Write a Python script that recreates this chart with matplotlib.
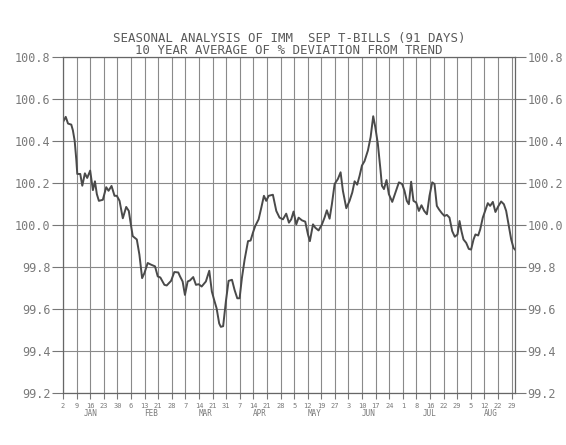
import numpy as np
import matplotlib
matplotlib.use("Agg")
import matplotlib.pyplot as plt

# weeks from Jan 2, and average % deviation
weeks = [0.0, 0.2, 0.37, 0.61, 0.73, 0.86, 0.98, 1.05, 1.27, 1.42, 1.61, 1.78, 2.0,
         2.2, 2.35, 2.49, 2.64, 2.93, 3.18, 3.35, 3.57, 3.79, 3.96, 4.16, 4.4, 4.65,
         4.84, 4.99, 5.13, 5.43, 5.62, 5.82, 5.99, 6.23, 6.48, 6.77, 6.97, 7.16, 7.46,
         7.63, 7.95, 8.19, 8.48, 8.61, 8.8, 8.97, 9.17, 9.34, 9.58, 9.78, 9.98, 10.2,
         10.51, 10.76, 10.95, 11.12, 11.3, 11.49, 11.61, 11.78, 11.98, 12.18, 12.43,
         12.62, 12.82, 12.99, 13.16, 13.36, 13.61, 13.8, 13.97, 14.14, 14.39, 14.59,
         14.78, 14.95, 15.13, 15.44, 15.69, 15.93, 16.18, 16.42, 16.62, 16.79, 16.96,
         17.16, 17.33, 17.58, 17.82, 18.02, 18.16, 18.39, 18.56, 18.8, 19.05, 19.24,
         19.41, 19.61, 19.78, 19.98, 20.22, 20.42, 20.59, 20.84, 21.08, 21.28, 21.45,
         21.64, 21.82, 21.99, 22.18, 22.43, 22.63, 22.82, 22.97, 23.16, 23.36, 23.46,
         23.61, 23.8, 23.97, 24.22, 24.46, 24.71, 24.95, 25.12, 25.29, 25.44, 25.61,
         25.78, 25.98, 26.18, 26.37, 26.57, 26.77, 26.96, 27.16, 27.33, 27.5, 27.65,
         27.87, 28.06, 28.24, 28.43, 28.63, 28.82, 29.02, 29.17, 29.31, 29.46, 29.66,
         29.85, 30.02, 30.2, 30.34, 30.54, 30.69, 30.88, 31.05, 31.25, 31.42, 31.62,
         31.81, 32.01, 32.23, 32.43, 32.6, 32.8, 32.97, 33.14, 33.25]
values = [100.49, 100.515, 100.483, 100.478, 100.45, 100.40, 100.31, 100.243, 100.243,
          100.187, 100.246, 100.224, 100.259, 100.166, 100.208, 100.147, 100.115, 100.12,
          100.18, 100.163, 100.186, 100.139, 100.139, 100.115, 100.032, 100.086, 100.067,
          100.003, 99.947, 99.931, 99.859, 99.747, 99.771, 99.819, 99.811, 99.803, 99.755,
          99.75, 99.715, 99.712, 99.734, 99.776, 99.774, 99.755, 99.731, 99.667, 99.731,
          99.736, 99.752, 99.715, 99.718, 99.707, 99.731, 99.782, 99.683, 99.643, 99.603,
          99.531, 99.515, 99.518, 99.635, 99.734, 99.739, 99.691, 99.651, 99.651, 99.747,
          99.835, 99.923, 99.926, 99.963, 99.995, 100.027, 100.083, 100.139, 100.115,
          100.139, 100.144, 100.067, 100.035, 100.027, 100.054, 100.011, 100.027, 100.064,
          100.003, 100.035, 100.022, 100.016, 99.955, 99.923, 100.003, 99.987, 99.974,
          100.003, 100.035, 100.07, 100.03, 100.099, 100.195, 100.219, 100.251, 100.163,
          100.08, 100.115, 100.155, 100.208, 100.192, 100.235, 100.283, 100.304, 100.355,
          100.419, 100.518, 100.467, 100.387, 100.259, 100.187, 100.171, 100.214, 100.147,
          100.11, 100.155, 100.203, 100.195, 100.163, 100.115, 100.099, 100.206, 100.115,
          100.107, 100.067, 100.094, 100.067, 100.051, 100.139, 100.203, 100.195, 100.091,
          100.075, 100.056, 100.043, 100.048, 100.035, 99.971, 99.944, 99.955, 100.019,
          99.971, 99.931, 99.915, 99.886, 99.883, 99.931, 99.955, 99.95, 99.979, 100.035,
          100.067, 100.104, 100.091, 100.11, 100.062, 100.088, 100.112, 100.099, 100.067,
          99.995, 99.931, 99.891, 99.883]

day_labels = ["2", "9", "16", "23", "30", "6", "13", "21", "28", "7", "14", "21", "31",
              "7", "14", "21", "28", "5", "12", "19", "27", "3", "10", "17", "24",
              "1", "8", "16", "22", "29", "5", "12", "22", "29"]
months = ["JAN", "FEB", "MAR", "APR", "MAY", "JUN", "JUL", "AUG"]
month_counts = [5, 4, 4, 4, 4, 4, 5, 4]
y_ticks = [99.2, 99.4, 99.6, 99.8, 100.0, 100.2, 100.4, 100.6, 100.8]
title = ("SEASONAL ANALYSIS OF IMM  SEP T-BILLS (91 DAYS)\n"
         "10 YEAR AVERAGE OF % DEVIATION FROM TREND")

txt = "#7a7a7a"
mono = "DejaVu Sans Mono"

fig = plt.figure(figsize=(5.66, 4.45), dpi=100)
ax = fig.add_axes([0.1113, 0.1169, 0.7986, 0.755])

ax.plot(weeks, values, color="#4a4a4a", lw=1.4)

ax.set_xlim(0, 33.25)
ax.set_ylim(99.2, 100.8)
ax.set_xticks(np.arange(len(day_labels)))
ax.set_xticklabels(day_labels, fontsize=5, family=mono, color=txt)
ax.set_yticks(y_ticks)
ax.set_yticklabels([f"{v:.1f}" for v in y_ticks], fontsize=8.5, family=mono, color=txt)
ax.tick_params(axis="y", which="both", direction="out", length=8, width=0.8,
               color="#777777", labelright=True, right=True, pad=1)
ax.tick_params(axis="x", direction="out", length=4, width=0.8, color="#777777", pad=3)
ax.grid(True, color="#8a8a8a", lw=0.8)
for s in ax.spines.values():
    s.set_color("#666666")
    s.set_linewidth(0.9)

# month names centred under their week labels
start = 0
for m, n in zip(months, month_counts):
    ax.text(start + (n - 1) / 2, -0.048, m, transform=ax.get_xaxis_transform(),
            ha="center", va="top", fontsize=5.5, family=mono, color=txt)
    start += n

fig.text(0.511, 0.929, title, ha="center", va="top", multialignment="center",
         fontsize=8.9, family=mono, color="#5a5a5a", linespacing=0.92)

fig.savefig("out.png", dpi=100, facecolor="white")
